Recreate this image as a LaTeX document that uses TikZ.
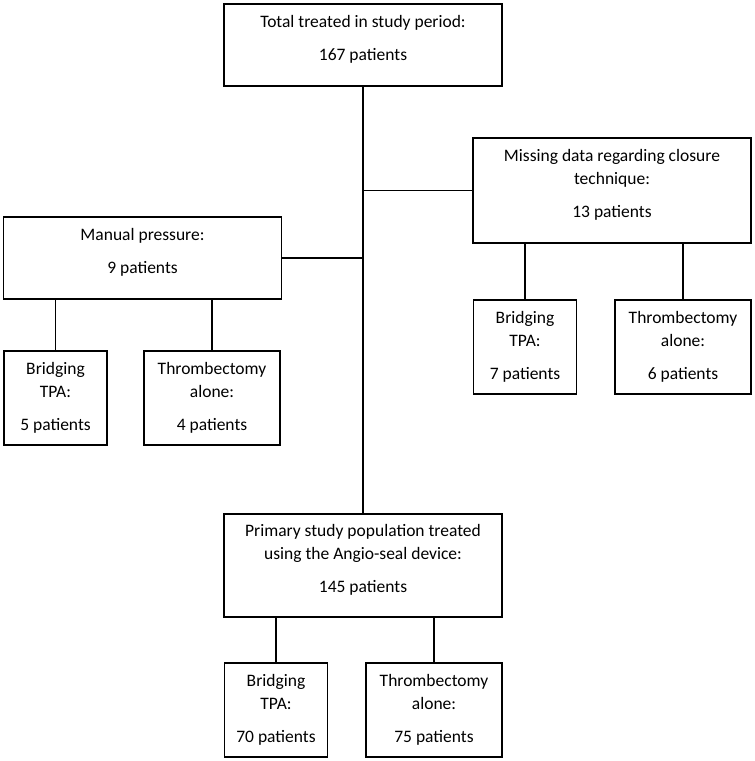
\documentclass[tikz,border=0pt]{standalone}
\usepackage{fontspec}
\setmainfont{Carlito}
\begin{document}
\begin{tikzpicture}[x=1pt, y=-1pt,
    box/.style = {draw, line width=1.5pt, align=center, inner sep=0pt,
                  font=\fontsize{17.5}{23}\selectfont},
    wide/.style = {box, minimum width=278pt, text depth=15pt},
    small/.style = {box, minimum width=103pt, minimum height=94pt},
    medium/.style = {box, minimum width=136pt, minimum height=94pt}]
    \useasboundingbox (0,0) rectangle (755,761);
    \node[wide, minimum height=82pt] (total) at (363,45) {Total treated in study period:\\[10pt]167 patients};
    \node[wide, minimum height=105pt] (missing) at (612,190.5) {Missing data regarding closure\\technique:\\[10pt]13 patients};
    \node[wide, minimum height=82pt] (manual) at (142.5,258) {Manual pressure:\\[10pt]9 patients};
    \node[wide, minimum height=103pt] (angio) at (363,565.5) {Primary study population treated\\using the Angio-seal device:\\[10pt]145 patients};
    \node[small] (mbridge) at (55.5,398) {Bridging\\TPA:\\[10pt]5 patients};
    \node[medium] (mthromb) at (212,398) {Thrombectomy\\alone:\\[10pt]4 patients};
    \node[small] (xbridge) at (525,347) {Bridging\\TPA:\\[10pt]7 patients};
    \node[medium] (xthromb) at (683,347) {Thrombectomy\\alone:\\[10pt]6 patients};
    \node[small] (abridge) at (276,710) {Bridging\\TPA:\\[10pt]70 patients};
    \node[medium] (athromb) at (434,710) {Thrombectomy\\alone:\\[10pt]75 patients};
    \begin{scope}[line width=1.5pt]
    \draw (total) -- (angio);
    \draw (missing.west) -- (missing.west -| total.south);
    \draw (manual.east) -- (manual.east -| total.south);
    \draw (mbridge) -- (mbridge |- manual.south);
    \draw (mthromb) -- (mthromb |- manual.south);
    \draw (xbridge) -- (xbridge |- missing.south);
    \draw (xthromb) -- (xthromb |- missing.south);
    \draw (abridge) -- (abridge |- angio.south);
    \draw (athromb) -- (athromb |- angio.south);
    \end{scope}
\end{tikzpicture}
\end{document}
